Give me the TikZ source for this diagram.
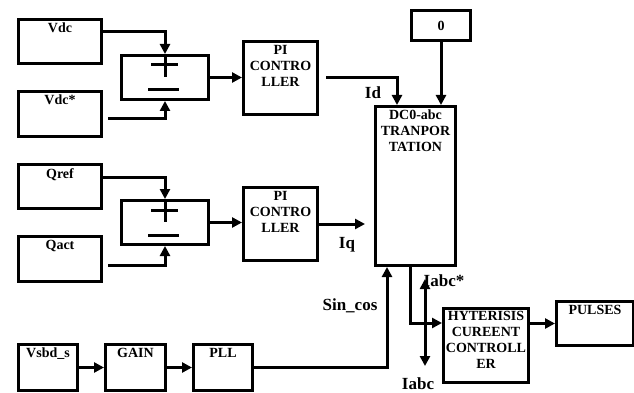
\documentclass[tikz,border=0pt]{standalone}
\usepackage{fontspec}
\setmainfont{Liberation Serif}
\usetikzlibrary{arrows.meta,calc}
\begin{document}
\begin{tikzpicture}[x=1pt,y=-1pt,
  box/.style={draw,line width=3pt,inner sep=0pt,anchor=north west},
  txt/.style={font=\fontsize{14}{16}\selectfont\bfseries,align=center,inner sep=0pt},
  lbl/.style={font=\fontsize{17}{19}\selectfont\bfseries,inner sep=0pt},
  conn/.style={line width=3pt,-{Triangle[length=10pt,width=10pt]}},
  sign/.style={line width=3pt}
]
\useasboundingbox (0,0) rectangle (634,393);
% boxes: at (x1,y1), size
\newcommand\mybox[6]{\node[box,minimum width=#4,minimum height=#5] (#1) at (#2,#3) {};
  \node[txt,anchor=north] (#1t) at ($(#1.north)+(0,#6)$) {};}
\node[box,minimum width=83,minimum height=44] (vdc) at (17,18) {};
\node[box,minimum width=83,minimum height=45] (vdcs) at (17,90) {};
\node[box,minimum width=87,minimum height=44] (sum1) at (120,54) {};
\node[box,minimum width=74,minimum height=73] (pi1) at (242,40) {};
\node[box,minimum width=59,minimum height=30] (zero) at (410,9) {};
\node[box,minimum width=80,minimum height=159] (dc) at (374,105) {};
\node[box,minimum width=83,minimum height=44] (qref) at (17,163) {};
\node[box,minimum width=83,minimum height=45] (qact) at (17,235) {};
\node[box,minimum width=87,minimum height=44] (sum2) at (120,199) {};
\node[box,minimum width=74,minimum height=73] (pi2) at (242,186) {};
\node[box,minimum width=59,minimum height=46] (vsbd) at (17,343) {};
\node[box,minimum width=60,minimum height=46] (gain) at (104,343) {};
\node[box,minimum width=59,minimum height=46] (pll) at (192,343) {};
\node[box,minimum width=85,minimum height=74] (hys) at (442,307) {};
\node[box,minimum width=77,minimum height=44] (pul) at (555,300) {};
% texts
\node[txt,anchor=north] (vdct) at ($(vdc.north)+(0,5)$) {Vdc};
\node[txt,anchor=north] (vdcst) at ($(vdcs.north)+(0,5)$) {Vdc*};
\node[txt,anchor=north] (qreft) at ($(qref.north)+(0,5)$) {Qref};
\node[txt,anchor=north] (qactt) at ($(qact.north)+(0,5)$) {Qact};
\node[txt,anchor=north] (pi1t) at ($(pi1.north)+(0,5)$) {PI\\CONTRO\\LLER};
\node[txt,anchor=north] (pi2t) at ($(pi2.north)+(0,5)$) {PI\\CONTRO\\LLER};
\node[txt,anchor=center] (zerot) at (zero.center) {0};
\node[txt,anchor=north] (dct) at ($(dc.north)+(0,5)$) {DC0-abc\\TRANPOR\\TATION};
\node[txt,anchor=north] (vsbdt) at ($(vsbd.north)+(0,5)$) {Vsbd\_s};
\node[txt,anchor=north] (gaint) at ($(gain.north)+(0,5)$) {GAIN};
\node[txt,anchor=north] (pllt) at ($(pll.north)+(0,5)$) {PLL};
\node[txt,anchor=north] (hyst) at ($(hys.north)+(0,4)$) {HYTERISIS\\CUREENT\\CONTROLL\\ER};
\node[txt,anchor=north] (pult) at ($(pul.north)+(0,5)$) {PULSES};
% signs
\draw[sign] ($(sum1.north west)+(31,11)$) -- ($(sum1.north west)+(58,11)$);
\draw[sign] (sum1.north) -- ($(sum1.north)+(0,23)$);
\draw[sign] ($(sum1.north west)+(28,36)$) -- ($(sum1.north west)+(59,36)$);
\draw[sign] ($(sum2.north west)+(31,11)$) -- ($(sum2.north west)+(58,11)$);
\draw[sign] (sum2.north) -- ($(sum2.north)+(0,23)$);
\draw[sign] ($(sum2.north west)+(28,36)$) -- ($(sum2.north west)+(59,36)$);
% connectors
\draw[conn] ($(vdc.north east)+(0,14)$) -| (sum1.north);
\draw[conn] ($(vdcs.north east)+(5,29)$) -| (sum1.south);
\draw[conn] ($(qref.north east)+(0,14)$) -| (sum2.north);
\draw[conn] ($(qact.north east)+(5,30)$) -| (sum2.south);
\draw[conn] (sum1.east) -- (sum1.east -| pi1.west);
\draw[conn] (sum2.east) -- (sum2.east -| pi2.west);
\draw[conn] ($(pi1.east)+(7,0)$) -| ($(dc.north west)+(23,0)$);
\draw[conn] (zero.south) -- (zero.south |- dc.north);
\draw[conn] (pi2.east) -- ($(dc.west |- pi2.east)+(-9,0)$);
\draw[conn] (vsbd.east) -- (gain.west);
\draw[conn] (gain.east) -- (pll.west);
\draw[conn] (pll.east) -| ($(dc.south west)+(13,0)$);
\draw[conn] ($(dc.south west)+(36,0)$) |- ($(hys.north west)+(0,16)$);
\draw[conn] (hys.east |- pul.west) -- (pul.west);
\coordinate (ia1) at (425,279);
\coordinate (ia2) at (425,366);
\draw[line width=3pt,{Triangle[length=10pt,width=10pt]}-{Triangle[length=10pt,width=10pt]}] (ia1) -- (ia2);
% labels
\node[lbl] (idl) at (373,93) {Id};
\node[lbl] (iql) at (347,245) {Iq};
\node[lbl] (scl) at (350,306) {Sin\_cos};
\node[lbl] (iasl) at (444,281) {Iabc*};
\node[lbl] (ial) at (418,384) {Iabc};
\end{tikzpicture}
\end{document}
